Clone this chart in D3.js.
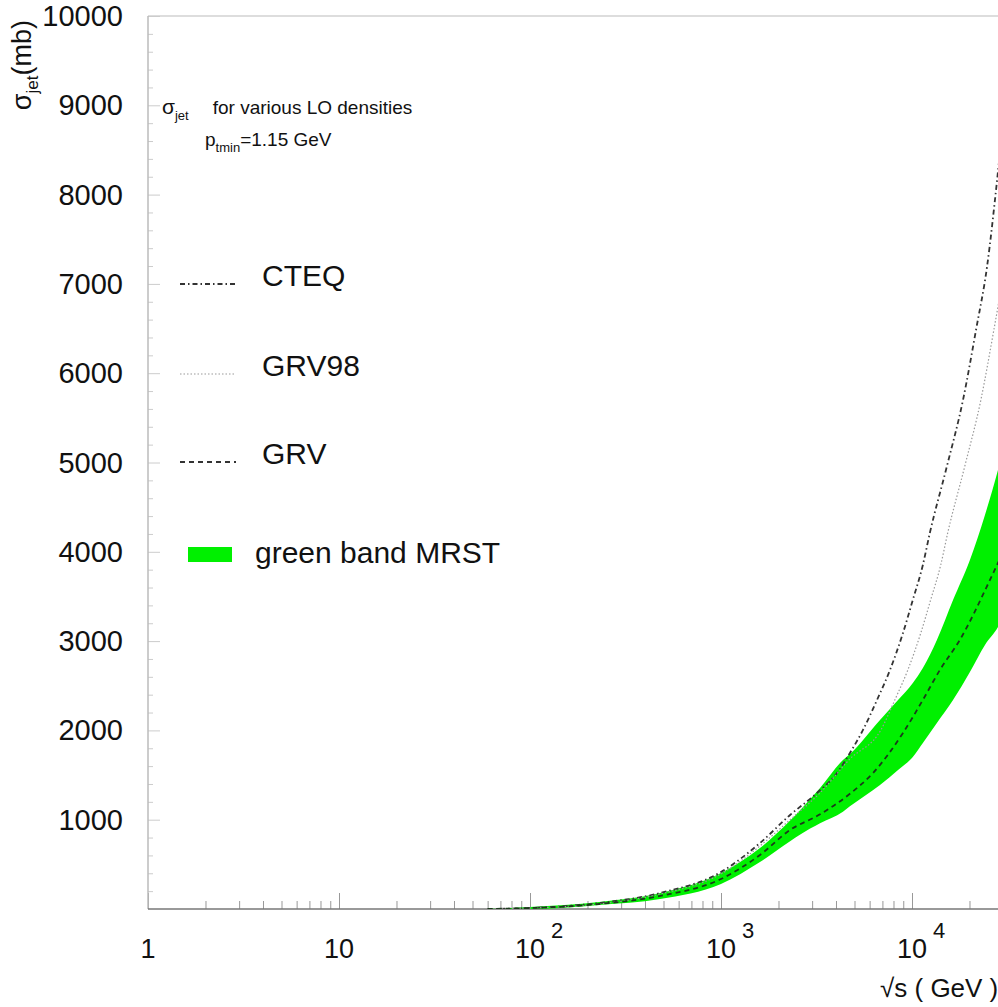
<!DOCTYPE html>
<html>
<head>
<meta charset="utf-8">
<script src="https://cdn.jsdelivr.net/npm/d3@7"></script>
<style>
  body { margin: 0; background: #fff; }
  text { font-family: "Liberation Sans", Arial, sans-serif; fill: #111; }
</style>
</head>
<body>
<div id="chart"></div>
<script>
// sqrt(s) in GeV, sigma_jet in mb
const sqrtSBand = [60, 100, 230, 480, 1000, 1600, 2300, 2600, 3300, 4350, 4730, 6800, 8450, 10100, 11400, 13500, 16400, 20100, 24100, 28200, 32000];
const mrstUpper = [0, 22, 78, 179, 403, 683, 990, 1109, 1355, 1669, 1736, 2117, 2341, 2531, 2699, 3013, 3461, 3909, 4413, 4917, 5380];
const mrstLower = [0, 0, 45, 112, 280, 526, 760, 835, 960, 1090, 1150, 1389, 1557, 1702, 1859, 2083, 2341, 2654, 2957, 3158, 3405];

const sqrtSGrv = [60, 100, 230, 480, 1000, 1600, 2300, 3300, 4730, 6250, 8970, 11400, 14000, 17800, 25600, 32000];
const grv = [0, 11, 56, 146, 336, 605, 885, 1060, 1290, 1523, 1971, 2341, 2677, 3013, 3685, 4133];

const sqrtSCteq = [60, 100, 230, 480, 1000, 1600, 2300, 3180, 4050, 4730, 5540, 6560, 7670, 8970, 10100, 11400, 12400, 15200, 18500, 21640, 24700, 27900, 29600];
const cteq = [0, 11, 67, 179, 414, 739, 1053, 1299, 1523, 1747, 2005, 2341, 2677, 3091, 3461, 3853, 4211, 4950, 5701, 6485, 7190, 8165, 8700];

const sqrtSGrv98 = [60, 100, 230, 480, 1000, 1600, 2300, 3300, 4730, 6870, 8130, 9510, 11120, 12520, 14140, 15380, 18850, 22940, 26830, 30630];
const grv98 = [0, 11, 56, 168, 392, 706, 1000, 1300, 1680, 2005, 2341, 2677, 3091, 3461, 3853, 4211, 4950, 5701, 6485, 7190];

const xMajor = [1, 10, 100, 1000, 10000];
const xLabelBase = ["1", "10", "10", "10", "10"];
const xLabelExp = ["", "", "2", "3", "4"];
const yLabels = [1000, 2000, 3000, 4000, 5000, 6000, 7000, 8000, 9000, 10000];

const legendNames = ["CTEQ", "GRV98", "GRV"];
const legendDash = ["5,3,1.5,3", "1.5,2", "5,4"];
const legendColor = ["#333", "#999", "#333"];

const width = 998, height = 1007;
const plotLeft = 148, plotBottom = 909, plotTop = 16;

const x = d3.scaleLog().domain([1, 1e5]).range([plotLeft, plotLeft + 5 * 191]);
const y = d3.scaleLinear().domain([0, 10000]).range([plotBottom, plotTop]);

const svg = d3.select("#chart").append("svg")
    .attr("width", width)
    .attr("height", height);

svg.append("defs").append("clipPath").attr("id", "plot")
  .append("rect")
    .attr("x", plotLeft).attr("y", plotTop)
    .attr("width", x(1e5) - plotLeft).attr("height", plotBottom - plotTop);

// frame
svg.append("line")
    .attr("x1", plotLeft).attr("x2", width).attr("y1", plotTop).attr("y2", plotTop)
    .attr("stroke", "#ddd").attr("stroke-width", 2);

// x axis ticks (inside)
const xMinor = x.ticks().filter(v => xMajor.indexOf(v) < 0 && v < 1e5);
const gxMinor = svg.append("g")
    .attr("transform", `translate(0,${plotBottom})`)
    .call(d3.axisBottom(x).tickValues(xMinor).tickSize(-8).tickFormat(""));
const gxMajor = svg.append("g")
    .attr("transform", `translate(0,${plotBottom})`)
    .call(d3.axisBottom(x).tickValues(xMajor).tickSize(-16).tickFormat(""));
[gxMinor, gxMajor].forEach(g => {
  g.select(".domain").remove();
  g.selectAll(".tick line").attr("stroke", "#999");
});

// y axis ticks (inside)
const yMinor = d3.range(200, 10000, 200).filter(v => v % 1000 !== 0);
const gyMinor = svg.append("g")
    .attr("transform", `translate(${plotLeft},0)`)
    .call(d3.axisLeft(y).tickValues(yMinor).tickSize(-5).tickFormat(""));
const gyMajor = svg.append("g")
    .attr("transform", `translate(${plotLeft},0)`)
    .call(d3.axisLeft(y).tickValues(yLabels).tickSize(-12).tickFormat(""));
[gyMinor, gyMajor].forEach(g => {
  g.select(".domain").remove();
  g.selectAll(".tick line").attr("stroke", "#ccc");
});

svg.append("line")
    .attr("x1", plotLeft).attr("x2", plotLeft).attr("y1", plotTop).attr("y2", plotBottom)
    .attr("stroke", "#bbb").attr("stroke-width", 1.5);
svg.append("line")
    .attr("x1", plotLeft).attr("x2", width).attr("y1", plotBottom).attr("y2", plotBottom)
    .attr("stroke", "#777").attr("stroke-width", 1.5);

// y tick labels
svg.append("g").selectAll("text")
  .data(yLabels)
  .join("text")
    .attr("x", 123)
    .attr("y", d => y(d) + 10)
    .attr("text-anchor", "end")
    .style("font-size", "29px")
    .text(d => d);

// x tick labels
const xl = svg.append("g").selectAll("text")
  .data(xMajor)
  .join("text")
    .attr("x", (d, i) => x(d) - (xLabelExp[i] ? 15 : 0))
    .attr("y", 958)
    .attr("text-anchor", (d, i) => xLabelExp[i] ? "start" : "middle")
    .style("font-size", "27px");
xl.append("tspan").text((d, i) => xLabelBase[i]);
xl.append("tspan")
    .attr("dx", 6).attr("dy", -20)
    .style("font-size", "22px")
    .text((d, i) => xLabelExp[i]);

// axis titles
const yt = svg.append("text")
    .attr("transform", "translate(31,20) rotate(-90)")
    .attr("text-anchor", "end")
    .style("font-size", "27px");
yt.append("tspan").text("σ");
yt.append("tspan").attr("dy", 7).style("font-size", "17px").text("jet");
yt.append("tspan").attr("dy", -7).text("(mb)");

svg.append("text")
    .attr("x", 880).attr("y", 997)
    .style("font-size", "26px")
    .text("√s ( GeV )");

// band and curves
const plot = svg.append("g").attr("clip-path", "url(#plot)");

const area = d3.area()
    .x(d => x(d[0]))
    .y0(d => y(d[1]))
    .y1(d => y(d[2]))
    .curve(d3.curveMonotoneX);

plot.append("path")
    .datum(sqrtSBand.map((s, i) => [s, mrstLower[i], mrstUpper[i]]))
    .attr("fill", "#00f000")
    .attr("d", area);

const line = d3.line()
    .x(d => x(d[0]))
    .y(d => y(d[1]))
    .curve(d3.curveMonotoneX);

const series = [
  {xs: sqrtSCteq, ys: cteq, dash: legendDash[0], color: legendColor[0], w: 1.8},
  {xs: sqrtSGrv98, ys: grv98, dash: legendDash[1], color: legendColor[1], w: 1.2},
  {xs: sqrtSGrv, ys: grv, dash: legendDash[2], color: "#1a3a1a", w: 1.8}
];

plot.selectAll("path.curve")
  .data(series)
  .join("path")
    .attr("class", "curve")
    .attr("fill", "none")
    .attr("stroke", d => d.color)
    .attr("stroke-width", d => d.w)
    .attr("stroke-dasharray", d => d.dash)
    .attr("d", d => line(d.xs.map((s, i) => [s, d.ys[i]])));

// annotation
const t1 = svg.append("text")
    .attr("x", 162).attr("y", 114)
    .style("font-size", "19px");
t1.append("tspan").style("font-size", "21px").text("σ");
t1.append("tspan").attr("dy", 6).style("font-size", "13px").text("jet");
t1.append("tspan").attr("dy", -6).attr("dx", 24).text("for various LO densities");

const t2 = svg.append("text")
    .attr("x", 205).attr("y", 146)
    .style("font-size", "19px");
t2.append("tspan").text("p");
t2.append("tspan").attr("dy", 6).style("font-size", "13px").text("tmin");
t2.append("tspan").attr("dy", -6).text("=1.15 GeV");

// legend
const legendY = [286, 376, 464];
const lg = svg.append("g");
legendNames.forEach((name, i) => {
  lg.append("line")
      .attr("x1", 180).attr("x2", 236)
      .attr("y1", legendY[i] - 2).attr("y2", legendY[i] - 2)
      .attr("stroke", legendColor[i])
      .attr("stroke-width", i === 1 ? 1.2 : 1.8)
      .attr("stroke-dasharray", legendDash[i]);
  lg.append("text")
      .attr("x", 262).attr("y", legendY[i])
      .style("font-size", "30px")
      .text(name);
});
lg.append("rect")
    .attr("x", 188).attr("y", 547)
    .attr("width", 44).attr("height", 15)
    .attr("fill", "#00f000");
lg.append("text")
    .attr("x", 255).attr("y", 563)
    .style("font-size", "30px")
    .text("green band MRST");
</script>
</body>
</html>
